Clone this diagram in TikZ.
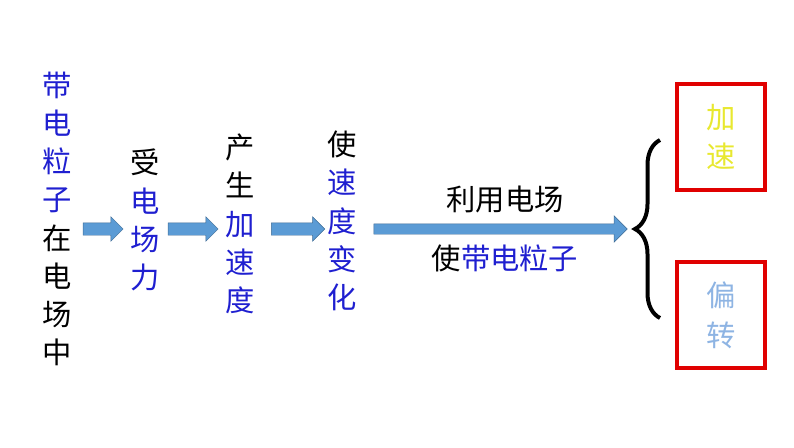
\documentclass[tikz,border=0pt]{standalone}
\usepackage{fontspec}
\setmainfont{Noto Sans CJK SC}
\usetikzlibrary{shapes.arrows, decorations.pathreplacing, positioning}
\definecolor{arrowblue}{HTML}{5B9BD5}
\definecolor{txtblue}{HTML}{1F1FD0}
\definecolor{boxred}{HTML}{E00000}
\definecolor{accyellow}{HTML}{E8E830}
\definecolor{defblue}{HTML}{8EB4E3}
\newcommand{\bl}[1]{\textcolor{txtblue}{#1}}
\tikzset{
    col/.style={anchor=north, align=center, inner sep=0pt,
        font=\fontsize{25}{32.5}\selectfont},
    flow/.style={single arrow, draw=arrowblue!70!black, fill=arrowblue,
        minimum height=#1, inner xsep=0pt, inner ysep=0.18cm,
        single arrow head extend=0.18cm, line width=0.4pt},
    resbox/.style={draw=boxred, line width=2.6pt, minimum width=2.64cm,
        minimum height=3.18cm, align=center, inner sep=0pt,
        font=\fontsize{25}{34}\selectfont}
}
\begin{document}
\begin{tikzpicture}[x=0.03cm, y=-0.03cm]
    \useasboundingbox (0,0) rectangle (794,447);
    % columns of text
    \node[col] (c1) at (57,72) {\bl{带}\\\bl{电}\\\bl{粒}\\\bl{子}\\在\\电\\场\\中};
    \node[col] (c2) at (145,149) {受\\\bl{电}\\\bl{场}\\\bl{力}};
    \node[col] (c3) at (240,134) {产\\生\\\bl{加}\\\bl{速}\\\bl{度}};
    \node[col] (c4) at (342,131) {使\\\bl{速}\\\bl{度}\\\bl{变}\\\bl{化}};

    % block arrows
    \node[flow=1.2cm] (a1) at (100,229) {};
    \node[flow=1.5cm] (a2) at (190,229) {};
    \node[flow=1.6cm] (a3) at (295,229) {};
    \node[flow=7.6cm, inner ysep=0.15cm, single arrow head extend=0.24cm] (a4) at (498,229) {};

    \node[font=\fontsize{25}{30}\selectfont] (t1) at (505,199) {利用电场};
    \node[font=\fontsize{25}{30}\selectfont] (t2) at (505,258) {使\bl{带电粒子}};

    % brace
    \coordinate (b1) at (660,140);
    \coordinate (b2) at (660,318);
    \draw[line width=3.4pt, decorate, decoration={brace, amplitude=0.75cm, mirror}] (b1) -- (b2);

    % result boxes
    \node[resbox] (r1) at (721,137) {\textcolor{accyellow}{加}\\\textcolor{accyellow}{速}};
    \node[resbox] (r2) at (721,315) {\textcolor{defblue}{偏}\\\textcolor{defblue}{转}};
\end{tikzpicture}
\end{document}
